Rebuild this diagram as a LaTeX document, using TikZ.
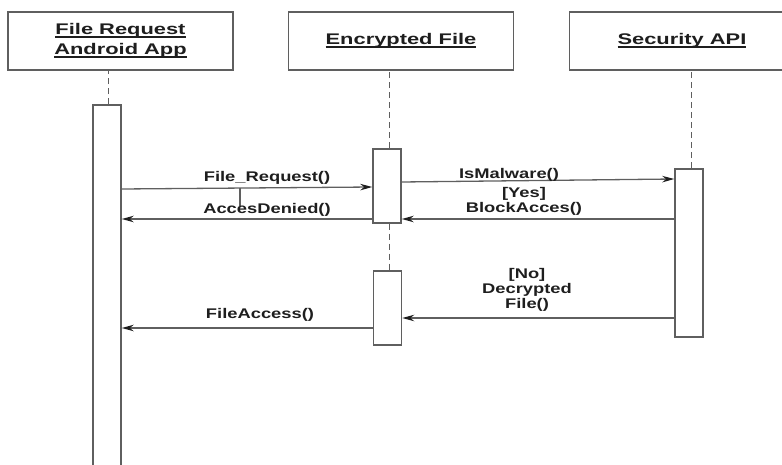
\documentclass[tikz,border=0pt]{standalone}
\usepackage{fontspec}
\setmainfont{Liberation Sans}
\newfontfamily\hdfont[FakeStretch=1.42]{Liberation Sans}
\newfontfamily\lbfont[FakeStretch=1.31]{Liberation Sans}
\usetikzlibrary{arrows.meta}
\definecolor{ln}{RGB}{95,95,95}
\definecolor{tx}{RGB}{30,30,30}
\newcommand\myul[1]{\setbox0\hbox{#1}\rlap{\rule[-2.6pt]{\wd0}{1.3pt}}\box0}
\tikzset{
  head/.style={draw=ln, line width=1.5pt, fill=white, minimum width=225pt, minimum height=58pt, inner sep=0pt,
    font=\hdfont\bfseries\fontsize{15.4}{20}\selectfont, text=tx, align=center},
  bar/.style={draw=ln, line width=1.5pt, fill=white, minimum width=28pt, inner sep=0pt},
  life/.style={draw=ln, line width=1pt, dash pattern=on 6pt off 4pt},
  msg/.style={draw=ln, line width=1.3pt, -{Stealth[length=12pt,width=6.5pt,color=tx]}},
  lbl/.style={font=\lbfont\bfseries\fontsize{14}{15}\selectfont, text=tx, align=center, inner sep=0pt, anchor=base}
}
\begin{document}
\begin{tikzpicture}[x=1pt,y=-1pt]
\useasboundingbox (0,0) rectangle (782,465);
\clip (0,0) rectangle (782,465);
% heads
\node[head] (h1) at (120.5,41) {\myul{File Request}\\\myul{Android App}};
\node[head] (h2) at (401,41) {\myul{Encrypted File}};
\node[head] (h3) at (682,41) {\myul{Security API}};
% activation bars
\node[bar, minimum height=375pt] (b1) at (107,292.5) {};
\node[bar, minimum height=74pt] (b2a) at (387,186) {};
\node[bar, minimum height=74pt] (b2b) at (387.5,308) {};
\node[bar, minimum height=168pt] (b3) at (689,253) {};
% lifelines
\draw[life] ([xshift=1.5pt]b1.north) -- ([xshift=1.5pt]b1.north |- h1.south);
\draw[life] ([xshift=2.5pt]b2a.north) -- ([xshift=2.5pt]b2a.north |- h2.south);
\draw[life] ([xshift=2.5pt]b2a.south) -- ([xshift=2.5pt]b2a.south |- b2b.north);
\draw[life] ([xshift=2.5pt]b3.north) -- ([xshift=2.5pt]b3.north |- h3.south);
% messages
\draw[msg] (b1.east |- 0,189) -- coordinate[pos=0.472] (tk) (b2a.west |- 0,187);
\draw[ln, line width=1.2pt] (tk) -- ++(0,18);
\draw[msg] (b2a.west |- 0,219) -- (b1.east |- 0,219);
\draw[msg] (b2a.east |- 0,182) -- (b3.west |- 0,179);
\draw[msg] (b3.west |- 0,219) -- (b2a.east |- 0,219);
\draw[msg] (b3.west |- 0,318) -- (b2b.east |- 0,318);
\draw[msg] (b2b.west |- 0,328) -- (b1.east |- 0,328);
% labels
\node[lbl] (l1) at (267,182) {File\_Request()};
\node[lbl] (l2) at (267,214) {AccesDenied()};
\node[lbl] (l3) at (509,179) {IsMalware()};
\node[lbl] (l4) at (524,213) {[Yes]\\BlockAcces()};
\node[lbl] (l5) at (527,308) {[No]\\Decrypted\\File()};
\node[lbl] (l6) at (260,318) {FileAccess()};
\end{tikzpicture}
\end{document}
